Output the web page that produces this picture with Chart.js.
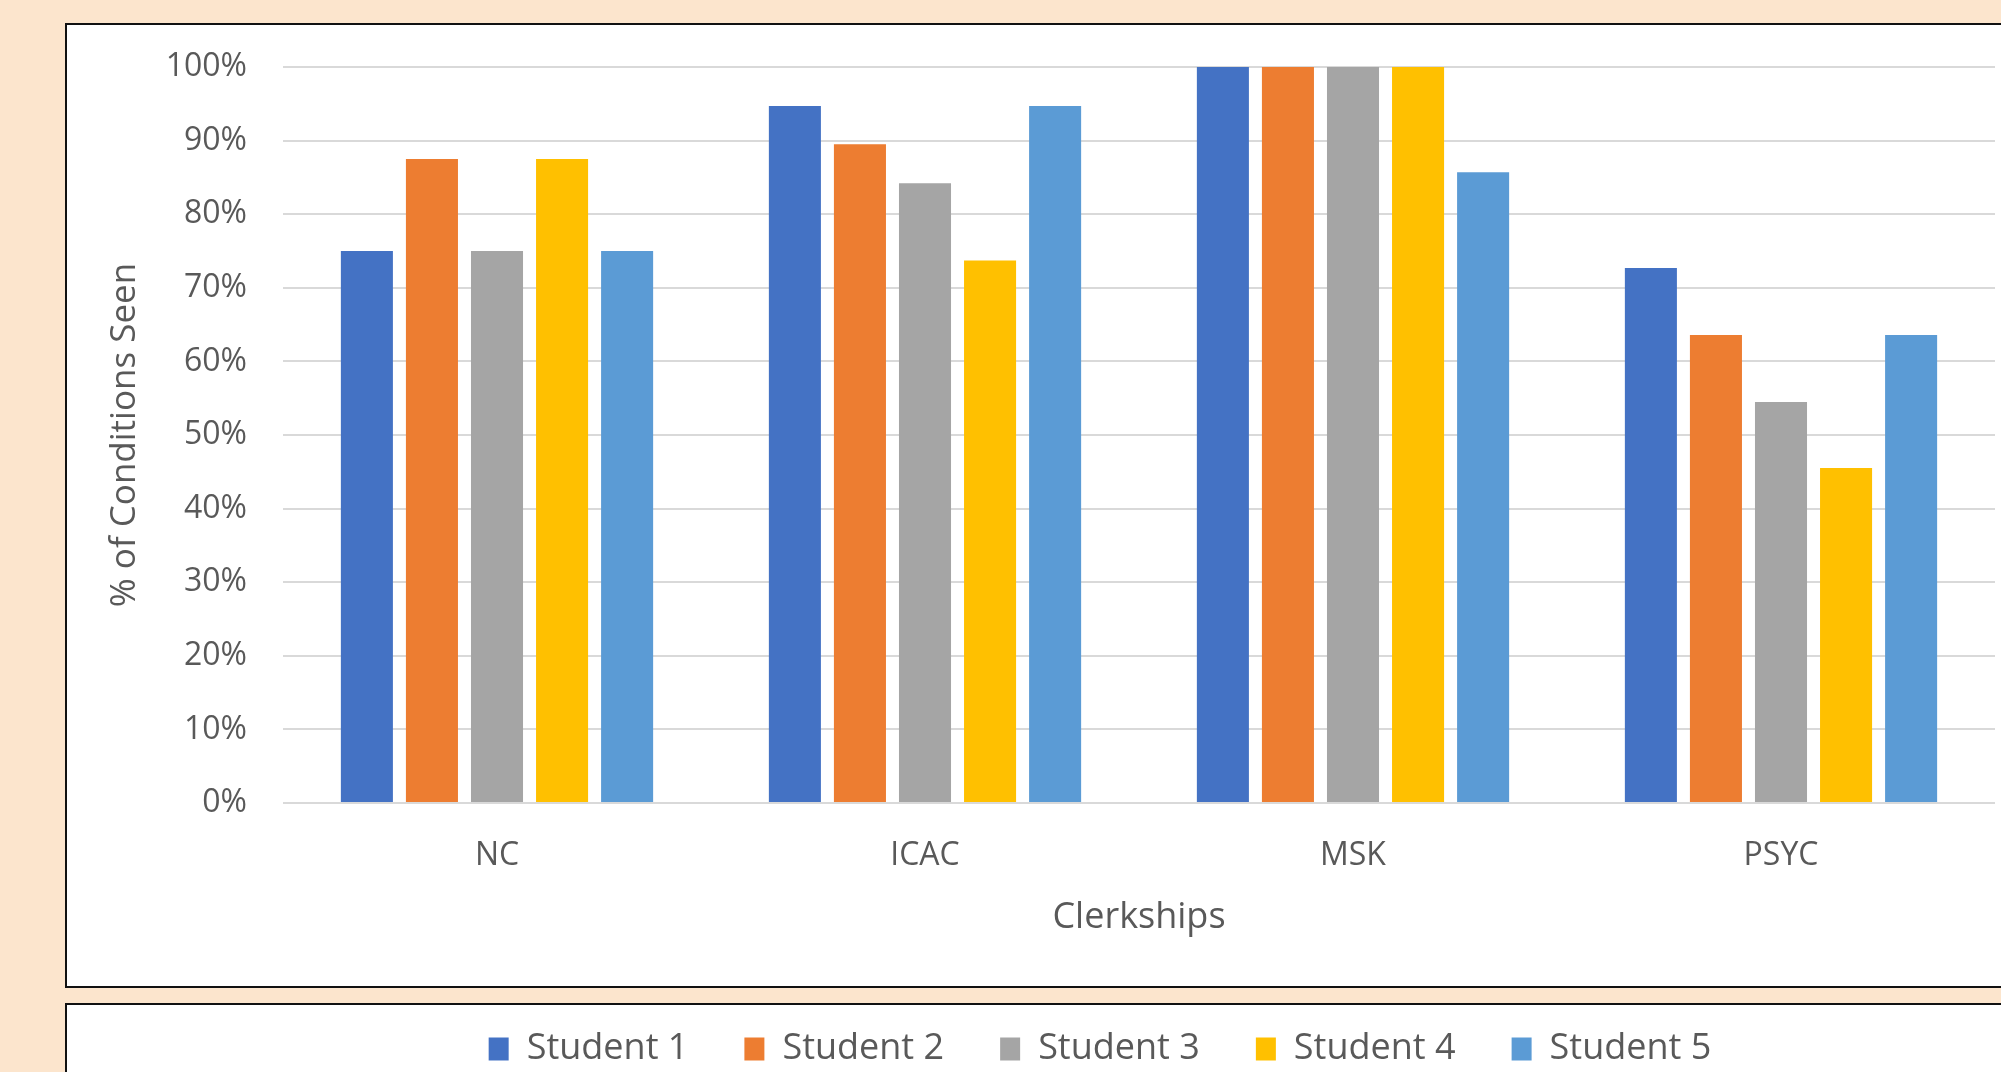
<!DOCTYPE html>
<html>
<head>
<meta charset="utf-8">
<title>Conditions seen per clerkship</title>
<script src="https://cdn.jsdelivr.net/npm/chart.js@4.4.0/dist/chart.umd.min.js"></script>
<style>
  html, body { margin: 0; padding: 0; overflow: hidden; background: #fce5cd; }
  body { width: 2001px; height: 1072px; position: relative; }
  .panel { position: absolute; left: 65px; width: 2000px; background: #fff; border: 2px solid #111; box-sizing: border-box; }
  #plotPanel { top: 23px; height: 965px; }
  #legendPanel { top: 1003px; height: 100px; }
  #wrap { position: absolute; left: 0; top: 0; width: 2200px; height: 1072px; }
</style>
</head>
<body>
<div class="panel" id="plotPanel"></div>
<div class="panel" id="legendPanel"></div>
<div id="wrap"><canvas id="chart" width="2200" height="1072"></canvas></div>
<script>
const clerkships = ['NC', 'ICAC', 'MSK', 'PSYC'];
const studentNames = ['Student 1', 'Student 2', 'Student 3', 'Student 4', 'Student 5'];

// % of conditions seen, one array per student (order follows clerkships)
const student1 = [75, 94.7, 100, 72.7];
const student2 = [87.5, 89.5, 100, 63.6];
const student3 = [75, 84.2, 100, 54.5];
const student4 = [87.5, 73.7, 100, 45.5];
const student5 = [75, 94.7, 85.7, 63.6];
const studentValues = [student1, student2, student3, student4, student5];

const barColors = ['#4472c4', '#ed7d31', '#a5a5a5', '#ffc000', '#5b9bd5'];

const textColor = '#595959';
const fontFamily = "'Open Sans', sans-serif";

const datasets = studentNames.map(function (name, i) {
    return {
        label: name,
        data: studentValues[i],
        backgroundColor: barColors[i],
        borderWidth: 0,
        categoryPercentage: 0.76,
        barPercentage: 0.8
    };
});

const ctx = document.getElementById('chart').getContext('2d');

const chart = new Chart(ctx, {
    type: 'bar',
    data: {
        labels: clerkships,
        datasets: datasets
    },
    options: {
        responsive: false,
        animation: false,
        devicePixelRatio: 1,
        layout: {
            padding: { top: 67, left: 0, right: 0, bottom: -5 }
        },
        plugins: {
            tooltip: { enabled: false },
            legend: {
                position: 'bottom',
                labels: {
                    color: textColor,
                    font: { family: fontFamily, size: 36 },
                    boxWidth: 20,
                    boxHeight: 23,
                    padding: 56
                }
            }
        },
        scales: {
            x: {
                grid: { display: false },
                border: { display: false },
                ticks: {
                    color: textColor,
                    font: { family: fontFamily, size: 32 },
                    padding: 26
                },
                title: {
                    display: true,
                    text: 'Clerkships',
                    color: textColor,
                    font: { family: fontFamily, size: 36 },
                    padding: { top: 0, bottom: 36 }
                },
                afterFit: function (scale) {
                    scale.height = 172;
                }
            },
            y: {
                min: 0,
                max: 100,
                ticks: {
                    stepSize: 10,
                    color: textColor,
                    font: { family: fontFamily, size: 32 },
                    padding: 36,
                    callback: function (value) {
                        return value + '%';
                    }
                },
                grid: { color: '#d9d9d9', lineWidth: 2, drawTicks: false },
                border: { display: false },
                title: {
                    display: true,
                    text: '% of Conditions Seen',
                    color: textColor,
                    font: { family: fontFamily, size: 35 },
                    padding: { top: 104, bottom: 0 }
                },
                afterFit: function (scale) {
                    scale.width = 283;
                }
            },
            // empty axis on the right, only to keep the plot off the page edge
            yRight: {
                position: 'right',
                grid: { display: false },
                border: { display: false },
                ticks: { display: false },
                afterFit: function (scale) {
                    scale.width = 205;
                }
            }
        }
    }
});
</script>
</body>
</html>
